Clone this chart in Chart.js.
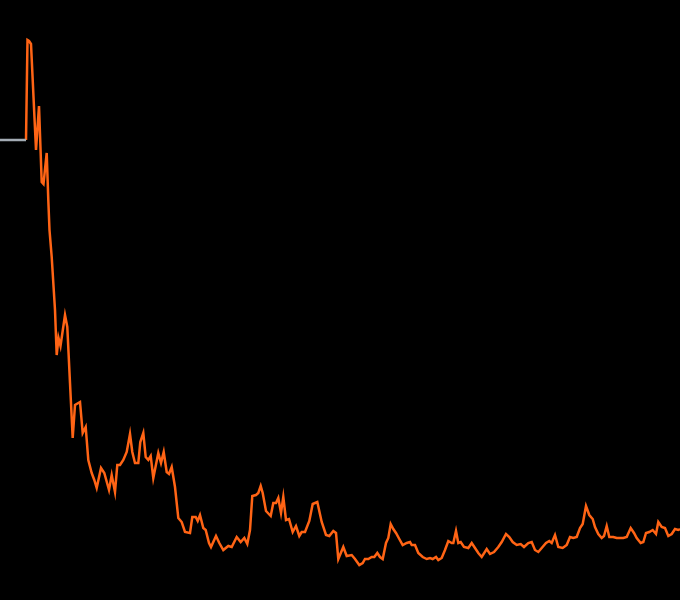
<!DOCTYPE html>
<html>
<head>
<meta charset="utf-8">
<script src="https://cdn.jsdelivr.net/npm/chart.js@4"></script>
<style>
  html, body { margin: 0; padding: 0; background: #000; }
  #wrap { width: 680px; height: 600px; }
</style>
</head>
<body>
<div id="wrap"><canvas id="c" width="680" height="600"></canvas></div>
<script>
// Reference (pre-start) level
const refDays = [0, 13];
const refValues = [46.0, 46.0];

// Main series
const days = [13,13.75,14.5,15.5,18,19.5,20.85,21.75,23.35,24.15,24.75,25.85,27.5,28.35,29.25,30.25,32.5,33.65,35,36.35,37.5,40,41.35,42.85,44.15,45.85,47.15,48.35,50.5,52.15,54.5,55.85,57.5,58.65,60,61.65,63.35,65,66.15,67.5,69.15,70.15,71.65,72.85,74.15,75.35,76.65,79.15,80.5,81.85,83.35,84.5,85.85,87.5,89.15,90.85,92.5,95,96.15,97.85,98.85,100,101.65,102.85,104.5,105.5,108,109.65,111.65,114.15,115.85,118.35,120.35,122.15,123.65,125,126.15,128,129.15,130.35,131.35,133,135.35,136.65,138,139.15,140.5,141.65,143,144.5,146.35,148,149.65,150.85,152.5,154.65,156.35,158.65,160.85,163,164.65,166.65,168,169.15,171.65,173.35,175.85,177.5,179.65,181.35,182.5,184.15,185.85,187.15,188.65,190,191.35,193,194.15,195.35,196.65,198,199.65,201.35,203.35,205,205.85,207.5,209.15,211.35,213.35,215,216.35,218,219.15,220.85,222.5,224.15,225.85,226.65,228,229.15,230.35,232,234.15,235.85,237.5,239.15,240.85,243.35,245,247,249.15,250.85,253,254.65,256.35,258.35,260.35,262,264.15,265.85,267.5,269.15,270.85,273,274.65,275.85,277.5,279.15,281.35,283.35,285,286.65,288.35,290,291.35,293,294.65,296.35,297.5,299.15,300.85,302,303.35,304.65,306.65,308.35,310,311.65,313.35,315.35,317,318.35,320.35,321.65,323,324.65,326.35,328,329.15,330.85,332.5,334.15,335.85,337.5,339.15,340];
const values = [46.0,56.0,55.9,55.6,45.0,49.4,41.8,41.6,44.7,40.0,37.0,34.3,29.0,24.5,26.2,25.4,28.5,27.3,21.7,16.2,19.5,19.8,16.7,17.3,14.0,12.7,12.0,11.2,13.2,12.7,11.0,12.5,10.8,13.5,13.5,14.0,14.8,16.6,14.8,13.7,13.7,15.8,16.7,14.3,14.0,14.4,12.2,14.7,13.7,14.8,12.8,12.6,13.3,11.3,8.2,7.8,6.8,6.7,8.3,8.3,7.9,8.5,7.2,7.0,5.7,5.3,6.4,5.7,5.0,5.4,5.3,6.3,5.8,6.2,5.6,7.0,10.4,10.5,10.7,11.4,10.7,8.9,8.4,9.7,9.7,10.2,8.7,10.3,8.0,8.1,6.8,7.4,6.4,6.8,6.8,7.9,9.6,9.8,7.8,6.5,6.4,6.9,6.7,4.1,5.3,4.4,4.5,4.1,3.5,3.7,4.1,4.1,4.3,4.3,4.7,4.3,4.1,5.7,6.2,7.6,7.1,6.7,6.1,5.5,5.7,5.8,5.5,5.5,4.7,4.3,4.1,4.2,4.1,4.3,4.0,4.2,5.0,5.9,5.7,5.7,6.9,5.7,5.8,5.3,5.2,5.7,5.2,4.7,4.3,5.1,4.6,4.8,5.3,5.8,6.6,6.3,5.8,5.5,5.6,5.3,5.7,5.8,5.0,4.8,5.2,5.7,5.9,5.7,6.5,5.3,5.2,5.5,6.3,6.2,6.3,7.2,7.6,9.4,8.5,8.1,7.3,6.6,6.2,6.4,7.4,6.3,6.3,6.2,6.2,6.2,6.3,7.2,6.7,6.2,5.7,5.8,6.7,6.8,7.0,6.6,7.8,7.3,7.2,6.4,6.6,7.1,7.0,7.1];

const toPts = (xs, ys) => xs.map((x, i) => ({ x: x, y: ys[i] }));

new Chart(document.getElementById('c'), {
  type: 'line',
  data: {
    datasets: [
      {
        data: toPts(refDays, refValues),
        borderColor: '#a3acb4',
        borderWidth: 2.5,
        pointRadius: 0,
        tension: 0
      },
      {
        data: toPts(days, values),
        borderColor: '#ff6415',
        borderWidth: 2.5,
        pointRadius: 0,
        tension: 0
      }
    ]
  },
  options: {
    responsive: false,
    animation: false,
    layout: { padding: 0 },
    plugins: { legend: { display: false }, tooltip: { enabled: false } },
    scales: {
      x: { type: 'linear', min: 0, max: 340, display: false },
      y: { min: 0, max: 60, display: false }
    }
  }
});
</script>
</body>
</html>
